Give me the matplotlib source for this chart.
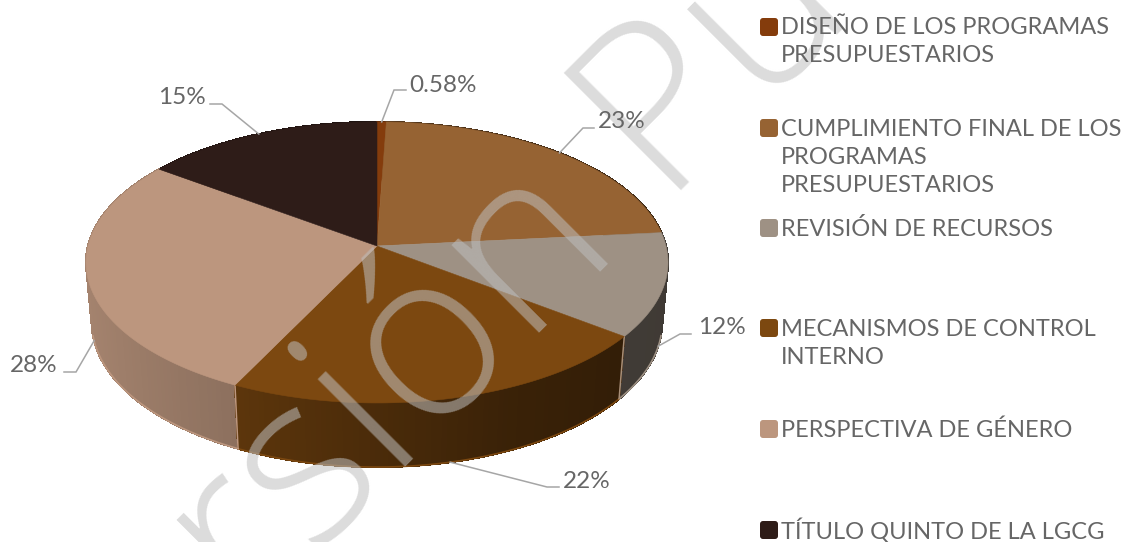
import numpy as np
import matplotlib
matplotlib.use("Agg")
import matplotlib.pyplot as plt
from matplotlib.patches import Polygon, FancyBboxPatch

categories = ["DISEÑO DE LOS PROGRAMAS\nPRESUPUESTARIOS",
              "CUMPLIMIENTO FINAL DE LOS\nPROGRAMAS\nPRESUPUESTARIOS",
              "REVISIÓN DE RECURSOS",
              "MECANISMOS DE CONTROL\nINTERNO",
              "PERSPECTIVA DE GÉNERO",
              "TÍTULO QUINTO DE LA LGCG"]
values = [0.58, 23, 12, 22, 28, 15]
value_labels = ["0.58%", "23%", "12%", "22%", "28%", "15%"]
colors = ["#843C0C", "#966333", "#9E9184", "#7C4810", "#BC967E", "#2E1C18"]

# layout
W, H = 1125, 542
CX, CY, RX, RY, K, DEPTH, SHRINK = 377, 246, 289, 138.6, 0.117, 61, 0.02
FONT = "Lato"
TXT = "#666666"
LEAD = "#A6A6A6"
lead_lower = [False, False, True, True, True, False]
lead_elbow = [(394, 90), (583, 128), (680, 334), (547, 487), (76, 372), (222, 104)]
lead_end = [(406, 90), (594, 128), (691, 334), (559, 487), (64, 372), (210, 104)]
label_pos = [(443.5, 83), (622, 120), (722, 326), (587, 479), (33.5, 364), (181.5, 96)]
legend_x, legend_sq_x = 781, 769
legend_y = [[26, 54], [127, 155, 183], [227], [328, 356], [428], [529]]
legend_sq_y = [27, 128, 228, 328, 429, 530]

fig = plt.figure(figsize=(W / 100, H / 100), dpi=100)
ax = fig.add_axes([0, 0, 1, 1])
ax.set_xlim(0, W)
ax.set_ylim(H, 0)
ax.axis("off")


def top(a):
    u, v = np.sin(a), np.cos(a)
    w = 1 + K * v
    return CX + RX * u / w, CY - RY * v / w


def low(a):
    u, v = np.sin(a), np.cos(a)
    w = 1 + K * v + SHRINK
    return CX + RX * u / w, CY - (RY * v - DEPTH) / w


def shade(a):
    return np.interp(np.sin(a), [-1, -0.45, 0, 0.4, 0.78, 1],
                     [0.88, 0.75, 0.60, 0.47, 0.41, 0.40])


vals = np.array(values, float)
edges = np.concatenate([[0], np.cumsum(vals)]) / vals.sum() * 2 * np.pi
rgb = [np.array(matplotlib.colors.to_rgb(c)) for c in colors]

# side wall: back to front
quads = []
for i in range(len(vals)):
    n = max(2, int((edges[i + 1] - edges[i]) * 60))
    g = np.linspace(edges[i], edges[i + 1], n + 1)
    for a0, a1 in zip(g[:-1], g[1:]):
        quads.append((np.cos((a0 + a1) / 2), a0, a1, i))
quads.sort(key=lambda q: -q[0])
for _, a0, a1, i in quads:
    col = rgb[i] * shade((a0 + a1) / 2)
    ax.add_patch(Polygon([top(a0), top(a1), low(a1), low(a0)], closed=True,
                         facecolor=col, edgecolor=col, lw=0.8,
                         antialiased=False, zorder=2))

# lower rim and wall separators
for i in range(len(vals)):
    g = np.linspace(edges[i], edges[i + 1], 80)
    x, y = low(g)
    keep = np.cos(g) < -0.2
    ax.plot(x[keep], y[keep], color=colors[i], lw=1.2, zorder=3)
for e, c in ((edges[3], "#A88F78"), (edges[4], colors[4])):
    ax.plot(*zip(top(e), low(e)), color=c, lw=1.1, zorder=3)

# top face
for i in range(len(vals)):
    g = np.linspace(edges[i], edges[i + 1], 120)
    x, y = top(g)
    pts = np.column_stack([np.r_[CX, x], np.r_[CY, y]])
    ax.add_patch(Polygon(pts, closed=True, facecolor=colors[i],
                         edgecolor=colors[i], lw=0.4, zorder=4))

# leaders and value labels
for i, lab in enumerate(value_labels):
    mid = (edges[i] + edges[i + 1]) / 2
    p = low(mid) if lead_lower[i] else top(mid)
    xs, ys = zip(p, lead_elbow[i], lead_end[i])
    ax.plot(xs, ys, color=LEAD, lw=1.1, zorder=5, solid_joinstyle="miter")
    ax.text(*label_pos[i], lab, ha="center", va="center_baseline", fontsize=17.5,
            family=FONT, weight="normal", color=TXT, zorder=8)

# legend
for i, cat in enumerate(categories):
    ax.add_patch(FancyBboxPatch((legend_sq_x - 7, legend_sq_y[i] - 7), 14, 14,
                                boxstyle="round,pad=2,rounding_size=3",
                                facecolor=colors[i], edgecolor="none", zorder=8))
    for line, y in zip(cat.split("\n"), legend_y[i]):
        ax.text(legend_x, y, line, ha="left", va="center_baseline", fontsize=17,
                family=FONT, weight="normal", color=TXT, zorder=8)

# watermark
ax.text(68, 805, "Versión Pública", rotation=45, rotation_mode="anchor",
        ha="left", va="baseline", fontsize=168, family="Open Sans", weight=300,
        color="#BFBFBF", alpha=0.55, zorder=6)

fig.savefig("out.png", dpi=100)
